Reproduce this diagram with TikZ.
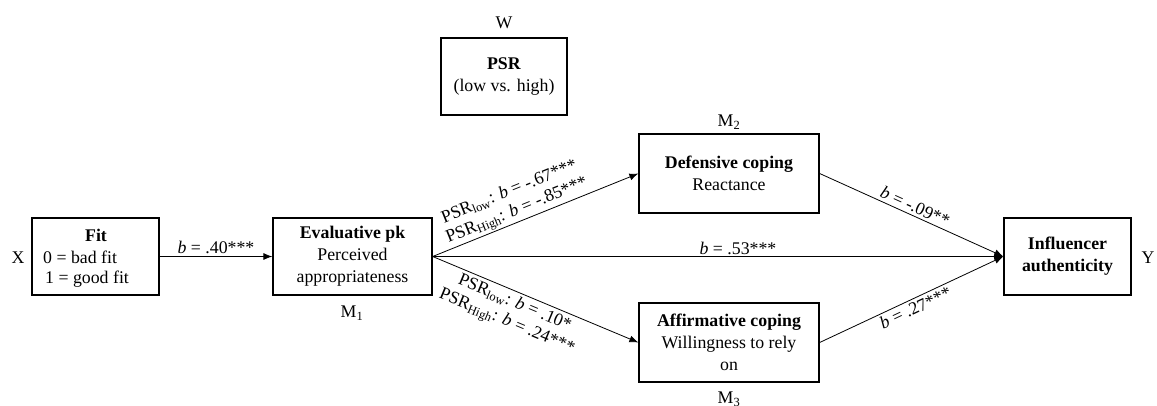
\documentclass[tikz,border=0pt]{standalone}
\usepackage{fontspec}
\setmainfont{Liberation Serif}
\usetikzlibrary{arrows.meta}
\begin{document}
\begin{tikzpicture}[x=1pt,y=-1pt,
  every node/.style={font=\fontsize{17.8}{22}\selectfont},
  box/.style={draw,line width=1.3pt,inner sep=0pt,align=center},
  lbl/.style={inner sep=0pt},
  path/.style={line width=0.8pt,-{Latex[length=9pt,width=7pt]}},
  coef/.style={sloped,inner sep=2.5pt,align=center,font=\fontsize{17.8}{20}\selectfont}]
\useasboundingbox (0,0) rectangle (1157,405);

% variable boxes
\node[box,minimum width=127pt,minimum height=77pt] (fit) at (95.5,256.5) {};
\node[lbl] (fitT) at (96,235) {\textbf{Fit}};
\node[lbl,anchor=west] (fit0) at (43,257) {0 = bad fit};
\node[lbl,anchor=west] (fit1) at (45,279) {1 = good fit};

\node[box,minimum width=159pt,minimum height=77pt] (eval) at (352.5,256.5)
  {\textbf{Evaluative pk}\\Perceived\\appropriateness};
\node[box,minimum width=126pt,minimum height=77pt] (psr) at (504,76.5)
  {\textbf{PSR}\\(low vs. high)};
\node[box,minimum width=180pt,minimum height=79pt] (def) at (729,173.5)
  {\textbf{Defensive coping}\\Reactance};
\node[box,minimum width=180pt,minimum height=79pt] (aff) at (729,342.5)
  {\textbf{Affirmative coping}\\Willingness to rely\\on};
\node[box,minimum width=127pt,minimum height=77pt] (infl) at (1067.5,256.5)
  {\textbf{Influencer}\\\textbf{authenticity}};

% role labels
\node[lbl] (X) at (18,258) {X};
\node[lbl] (Y) at (1148,258) {Y};
\node[lbl] (W) at (504,23) {W};
\node[lbl] (M1) at (352,313) {M\textsubscript{1}};
\node[lbl] (M2) at (729,122) {M\textsubscript{2}};
\node[lbl] (M3) at (729,399) {M\textsubscript{3}};

% paths with coefficients
\draw[path] (fit.east) -- node[coef,above,pos=0.5] {\textit{b} = .40***} (eval.west);
\draw[path] (eval.east) -- node[coef,above,pos=0.535,inner sep=1.5pt] {\textit{b} = .53***} (infl.west);
\draw[path] (eval.east) -- node[coef,above,pos=0.43,inner sep=1pt]
  {PSR\textsubscript{low}: \textit{b} = -.67***\\PSR\textsubscript{High}: \textit{b} = -.85***} (def.west);
\draw[path] (eval.east) -- node[coef,below,pos=0.42,inner sep=3pt]
  {PSR\textsubscript{low}: \textit{b} = .10*\\PSR\textsubscript{High}: \textit{b} = .24***} (aff.west);
\draw[path] (def.east) -- node[coef,above,pos=0.5] {\textit{b} = -.09**} (infl.west);
\draw[path] (aff.east) -- node[coef,below,pos=0.5] {\textit{b} = .27***} (infl.west);
\end{tikzpicture}
\end{document}
